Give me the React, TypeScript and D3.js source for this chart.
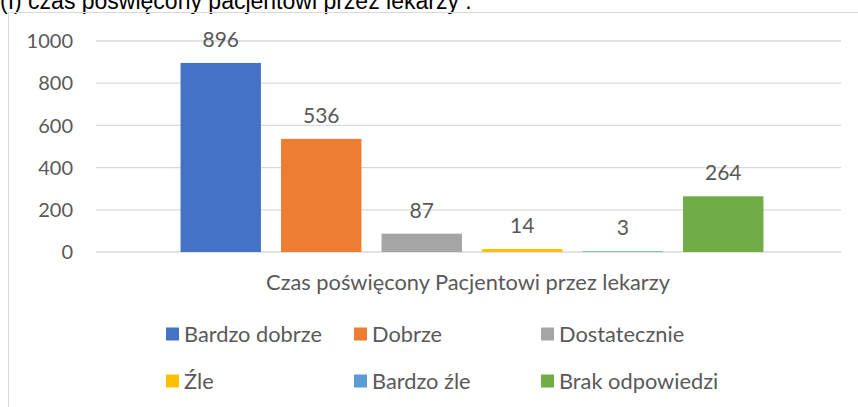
import React from 'react';
import { scaleBand, scaleLinear } from 'd3';

const series = ['Bardzo dobrze', 'Dobrze', 'Dostatecznie', 'Źle', 'Bardzo źle', 'Brak odpowiedzi'];
const values = [896, 536, 87, 14, 3, 264];
const colors = ['#4472c4', '#ed7d31', '#a5a5a5', '#ffc000', '#5b9bd5', '#70ad47'];
const yTicks = [0, 200, 400, 600, 800, 1000];
const category = 'Czas poświęcony Pacjentowi przez lekarzy';
const title = '(I) czas poświęcony pacjentowi przez lekarzy :';

const W = 858;
const H = 407;
const font = 'Lato, "Open Sans", sans-serif';
const grey = '#595959';

const App = () => {
  // scales
  const y = scaleLinear().domain([0, 1000]).range([252, 41]);
  const x = scaleBand<string>()
    .domain(series)
    .range([170.5, 773.5])
    .paddingInner(0.2)
    .paddingOuter(0.1);

  const legendCols = [166, 354, 541];
  const legendRows = [334, 381];

  return (
    <svg width={W} height={H} style={{ position: 'absolute', left: 0, top: 0, background: '#fff' }}>
      {/* heading above the chart, cut at the top like in the source */}
      <text x={0} y={9} fontFamily='"Liberation Sans", Arial, sans-serif' fontSize={23} fill="#000">
        {title}
      </text>

      {/* chart frame */}
      <line x1={8.5} x2={W} y1={12.5} y2={12.5} stroke="#d9d9d9" />
      <line x1={8.5} x2={8.5} y1={12.5} y2={H} stroke="#d9d9d9" />

      {/* gridlines + y labels */}
      {yTicks.map(t => (
        <g key={t}>
          <line x1={96} x2={841} y1={y(t)} y2={y(t)} stroke="#d9d9d9" strokeWidth={1.3} />
          <text
            x={73}
            y={y(t)}
            dy="0.36em"
            textAnchor="end"
            fontFamily={font}
            fontSize={20}
            fill={grey}
          >
            {t}
          </text>
        </g>
      ))}

      {/* bars */}
      {series.map((s, i) => (
        <rect
          key={s}
          x={x(s)}
          y={y(values[i])}
          width={x.bandwidth()}
          height={y(0) - y(values[i])}
          fill={colors[i]}
        />
      ))}

      {/* value labels */}
      {series.map((s, i) => (
        <text
          key={s}
          x={(x(s) ?? 0) + x.bandwidth() / 2}
          y={y(values[i]) - 16}
          textAnchor="middle"
          fontFamily={font}
          fontSize={21}
          fill={grey}
        >
          {values[i]}
        </text>
      ))}

      {/* category label */}
      <text x={468} y={290} textAnchor="middle" fontFamily={font} fontSize={21.8} fill={grey}>
        {category}
      </text>

      {/* legend */}
      {series.map((s, i) => {
        const lx = legendCols[i % 3];
        const ly = legendRows[Math.floor(i / 3)];
        return (
          <g key={s}>
            <rect x={lx} y={ly - 6.5} width={13} height={13} fill={colors[i]} />
            <text x={lx + 18} y={ly} dy="0.36em" fontFamily={font} fontSize={21.8} fill={grey}>
              {s}
            </text>
          </g>
        );
      })}
    </svg>
  );
};

export default App;
